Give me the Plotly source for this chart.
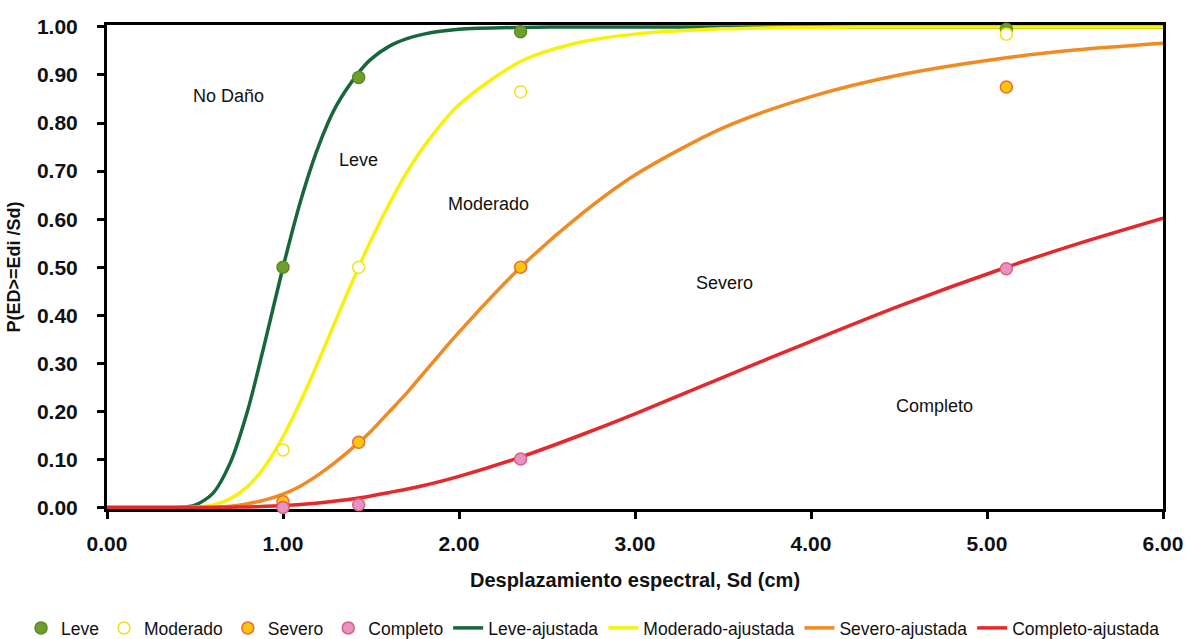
import plotly.graph_objects as go

# Observed points (Sd in cm, probability)
sd_points = [1.00, 1.43, 2.35, 5.11]
leve_pts = [0.50, 0.895, 0.99, 0.995]
moderado_pts = [0.12, 0.50, 0.865, 0.985]
severo_pts = [0.012, 0.136, 0.50, 0.875]
completo_pts = [0.0, 0.006, 0.101, 0.497]

# Fitted curves, values
sd_curve = [0.0, 0.3, 0.4, 0.5, 0.6, 0.7, 0.8, 0.9, 1.0, 1.1, 1.2, 1.3, 1.43, 1.5, 1.6, 1.7, 1.8,
            2.0, 2.35, 2.7, 3.0, 3.5, 4.0, 4.5, 5.11, 5.5, 6.0]
leve_fit = [0.0, 0.0, 0.0003, 0.005, 0.029, 0.093, 0.203, 0.348, 0.50, 0.638, 0.750, 0.834, 0.905,
            0.933, 0.959, 0.975, 0.985, 0.995, 0.999, 1.0, 1.0, 1.0, 1.0, 1.0, 1.0, 1.0, 1.0]
moderado_fit = [0.0, 0.0, 0.0001, 0.001, 0.005, 0.018, 0.044, 0.087, 0.147, 0.221, 0.303, 0.390, 0.50,
                0.556, 0.629, 0.695, 0.751, 0.838, 0.928, 0.969, 0.985, 0.996, 0.999, 1.0, 1.0, 1.0, 1.0]
severo_fit = [0.0, 0.0, 0.0, 0.0003, 0.001, 0.003, 0.008, 0.016, 0.028, 0.045, 0.068, 0.095, 0.135,
              0.159, 0.198, 0.237, 0.280, 0.365, 0.50, 0.612, 0.692, 0.790, 0.855, 0.900, 0.936, 0.952, 0.966]
completo_fit = [0.0, 0.0, 0.0, 0.0001, 0.0003, 0.0007, 0.0014, 0.0026, 0.0043, 0.0066, 0.0097, 0.0136,
                0.020, 0.024, 0.031, 0.038, 0.046, 0.065, 0.105, 0.152, 0.195, 0.271, 0.346, 0.419, 0.50,
                0.547, 0.602]

x_ticks = [0, 1, 2, 3, 4, 5, 6]
y_ticks = [0.0, 0.1, 0.2, 0.3, 0.4, 0.5, 0.6, 0.7, 0.8, 0.9, 1.0]

region_labels = ["No Daño", "Leve", "Moderado", "Severo", "Completo"]
region_x = [0.69, 1.43, 2.165, 3.51, 4.70]
region_y = [0.857, 0.723, 0.632, 0.467, 0.211]

FONT = "Liberation Sans, Arial, sans-serif"

marker_specs = [
    ("Leve", leve_pts, "#6e9f2e", "#5d8a25"),
    ("Moderado", moderado_pts, "#ffffff", "#f2e21c"),
    ("Severo", severo_pts, "#f8c808", "#ef6a3a"),
    ("Completo", completo_pts, "#e891c2", "#d6637c"),
]
line_specs = [
    ("Leve-ajustada", leve_fit, "#17673a"),
    ("Moderado-ajustada", moderado_fit, "#f7f20a"),
    ("Severo-ajustada", severo_fit, "#f28a24"),
    ("Completo-ajustada", completo_fit, "#e8272c"),
]

fig = go.Figure()

# Fitted lines first (drawn beneath points); legend order: markers then lines
for i, (name, ys, col) in enumerate(line_specs):
    fig.add_trace(go.Scatter(x=sd_curve, y=ys, mode="lines", name=name,
                             line=dict(color=col, width=3.5, shape="spline", smoothing=0.8),
                             legendrank=10 + i))

for i, (name, ys, fill, edge) in enumerate(marker_specs):
    fig.add_trace(go.Scatter(x=sd_points, y=ys, mode="markers", name=name,
                             marker=dict(size=12, color=fill, line=dict(color=edge, width=1.5)),
                             cliponaxis=False, legendrank=1 + i))

for t, x, y in zip(region_labels, region_x, region_y):
    fig.add_annotation(x=x, y=y, text=t, showarrow=False,
                       font=dict(family=FONT, size=18, color="#111111"))

fig.update_layout(
    width=1191, height=639,
    margin=dict(l=107, r=28, t=25, b=130, autoexpand=False),
    paper_bgcolor="white", plot_bgcolor="white",
    showlegend=True,
    legend=dict(orientation="h", xref="paper", x=-0.0814, xanchor="left",
                yref="paper", y=-0.2459, yanchor="middle",
                font=dict(family=FONT, size=17.5, color="#111111"),
                itemwidth=30, tracegroupgap=0, bgcolor="rgba(0,0,0,0)",
                traceorder="normal"),
    font=dict(family=FONT, color="#111111"),
)

fig.update_xaxes(
    range=[0, 6], tickvals=x_ticks, tickformat=".2f",
    automargin=False,
    showgrid=False, zeroline=False,
    showline=True, linecolor="black", linewidth=3, mirror=True,
    ticks="outside", ticklen=7, tickwidth=3, tickcolor="black",
    ticklabelstandoff=7,
    tickfont=dict(family=FONT, size=21, color="#111111", weight="bold"),
    title=dict(text="Desplazamiento espectral, Sd (cm)",
               font=dict(family=FONT, size=20, color="#111111", weight="bold"),
               standoff=19),
    layer="below traces",
)
fig.update_yaxes(
    range=[-0.003, 1.004], tickvals=y_ticks, tickformat=".2f",
    automargin=False,
    showgrid=False, zeroline=False,
    showline=True, linecolor="black", linewidth=3, mirror=True,
    ticks="outside", ticklen=7, tickwidth=3, tickcolor="black",
    ticklabelstandoff=15,
    tickfont=dict(family=FONT, size=21, color="#111111", weight="bold"),
    title=dict(text="P(ED>=Edi /Sd)",
               font=dict(family=FONT, size=18, color="#111111", weight="bold"),
               standoff=12),
    layer="below traces",
)

fig.write_html("out.html")
